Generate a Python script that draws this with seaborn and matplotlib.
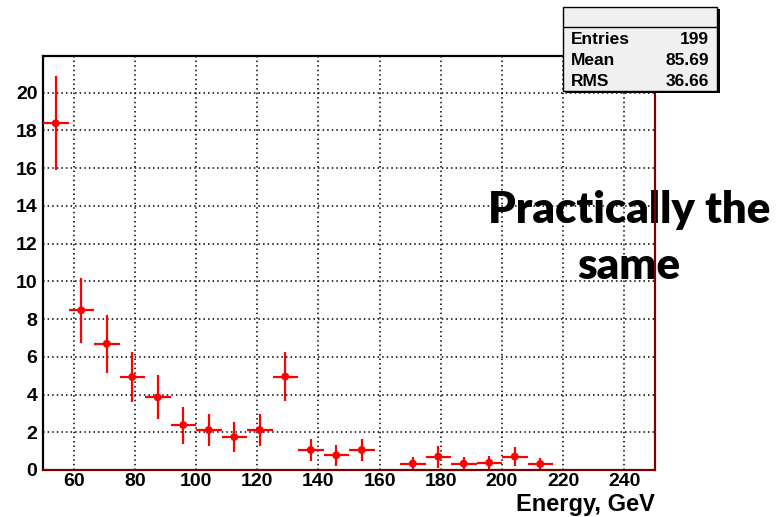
import matplotlib
matplotlib.use("Agg")
import matplotlib.pyplot as plt
import numpy as np
import pandas as pd
import seaborn as sns
from matplotlib.patches import Rectangle
from matplotlib.lines import Line2D
from matplotlib.ticker import MultipleLocator

# Histogram binning: 24 equal bins from 50 to 250 GeV
bin_low = 50.0
bin_high = 250.0
n_bins = 24

# Bin contents and their errors (None marks an empty bin)
counts = [18.37, 8.46, 6.69, 4.93, 3.85, 2.38, 2.12, 1.75, 2.12, 4.95,
          1.06, 0.78, 1.06, None, 0.34, 0.71, 0.34, 0.39, 0.71, 0.32,
          None, None, None, None]
errors = [2.50, 1.71, 1.53, 1.33, 1.17, 0.98, 0.86, 0.78, 0.86, 1.31,
          0.60, 0.56, 0.60, None, 0.36, 0.58, 0.33, 0.37, 0.50, 0.31,
          None, None, None, None]

# Statistics box
stat_names = ["Entries", "Mean", "RMS"]
stat_values = ["199", "85.69", "36.66"]

x_ticks = [60, 80, 100, 120, 140, 160, 180, 200, 220, 240]
y_ticks = [0, 2, 4, 6, 8, 10, 12, 14, 16, 18, 20]
x_label = "Energy, GeV"
note_lines = ["Practically the", "same"]

W, H = 780, 517

sns.set_style("white")
plt.rcParams["font.family"] = ["Liberation Sans", "DejaVu Sans"]
plt.rcParams["font.weight"] = "bold"
plt.rcParams["text.color"] = "black"
plt.rcParams["axes.labelcolor"] = "black"
plt.rcParams["xtick.color"] = "black"
plt.rcParams["ytick.color"] = "black"

edges = np.linspace(bin_low, bin_high, n_bins + 1)
centers = 0.5 * (edges[:-1] + edges[1:])
half_width = 0.5 * (edges[1] - edges[0])

df = pd.DataFrame({"energy": centers, "count": counts, "err": errors}).dropna()

fig = plt.figure(figsize=(W / 100, H / 100), dpi=100)


def fx(px):
    return px / W


def fy(py):
    return 1 - py / H


ax_l, ax_r, ax_t, ax_b = 43, 655, 55.7, 470
ax = fig.add_axes([fx(ax_l), fy(ax_b), (ax_r - ax_l) / W, (ax_b - ax_t) / H])

ax.errorbar(df["energy"], df["count"], yerr=df["err"], xerr=half_width,
            fmt="none", ecolor="#ff0000", elinewidth=1.6, capsize=0, zorder=3)
sns.scatterplot(data=df, x="energy", y="count", ax=ax, color="#ff0000",
                s=32, edgecolor="none", linewidth=0, zorder=4, legend=False)

ax.set_xlim(bin_low, bin_high)
ax.set_ylim(0, 21.95)
ax.set_xticks(x_ticks)
ax.set_yticks(y_ticks)
ax.xaxis.set_minor_locator(MultipleLocator(5))
ax.yaxis.set_minor_locator(MultipleLocator(0.5))
ax.set_xlabel("")
ax.set_ylabel("")

ax.grid(True, which="major", color="black", linestyle=(0, (1, 2)), linewidth=1.1)
ax.set_axisbelow(True)

ax.tick_params(axis="x", which="major", direction="in", length=8.5, width=1.0,
               color="black", labelcolor="black", pad=2, labelsize=14)
ax.tick_params(axis="x", which="minor", direction="in", length=4.3, width=1.0,
               color="black")
ax.tick_params(axis="y", which="major", direction="in", length=13, width=1.0,
               color="black", labelcolor="black", pad=4, labelsize=14)
ax.tick_params(axis="y", which="minor", direction="in", length=6.5, width=1.0,
               color="#555555")
for lab in ax.get_xticklabels() + ax.get_yticklabels():
    lab.set_fontweight("bold")
    lab.set_color("black")

for side in ["left", "top"]:
    ax.spines[side].set_color("black")
    ax.spines[side].set_linewidth(1.6)
for side in ["right", "bottom"]:
    ax.spines[side].set_color("#7a0000")
    ax.spines[side].set_linewidth(1.6)
    ax.spines[side].set_zorder(5)

fig.text(fx(655), fy(511.5), x_label, ha="right", va="baseline",
         fontsize=17, fontweight="bold", color="black")

# Statistics box with drop shadow
bx0, by0, bx1, by1 = 563.3, 6.7, 717, 90.7
fig.patches.append(Rectangle((fx(bx0 + 2.5), fy(by1 + 2.5)), (bx1 - bx0) / W,
                             (by1 - by0) / H, transform=fig.transFigure,
                             facecolor="black", edgecolor="none", zorder=10))
fig.patches.append(Rectangle((fx(bx0), fy(by1)), (bx1 - bx0) / W, (by1 - by0) / H,
                             transform=fig.transFigure, facecolor="#f0f0f0",
                             edgecolor="black", linewidth=1.0, zorder=11))
fig.lines.append(Line2D([fx(bx0), fx(bx1)], [fy(27.3), fy(27.3)],
                        transform=fig.transFigure, color="black", linewidth=1.0,
                        zorder=12))
row_y = [43.5, 65.0, 86.0]
for name, val, ry in zip(stat_names, stat_values, row_y):
    fig.text(fx(570.5), fy(ry), name, ha="left", va="baseline",
             fontsize=12.5, fontweight="bold", color="black", zorder=13)
    fig.text(fx(709), fy(ry), val, ha="right", va="baseline",
             fontsize=12.5, fontweight="bold", color="black", zorder=13)

# Annotation overlapping the right edge of the frame
for line, by in zip(note_lines, [223, 279]):
    ax.text(fx(629), fy(by), line, transform=fig.transFigure, ha="center",
            va="baseline", fontsize=31.5, fontweight="heavy",
            family=["Lato", "DejaVu Sans"], color="black",
            clip_on=False, zorder=2)

fig.savefig("out.png", dpi=100)
